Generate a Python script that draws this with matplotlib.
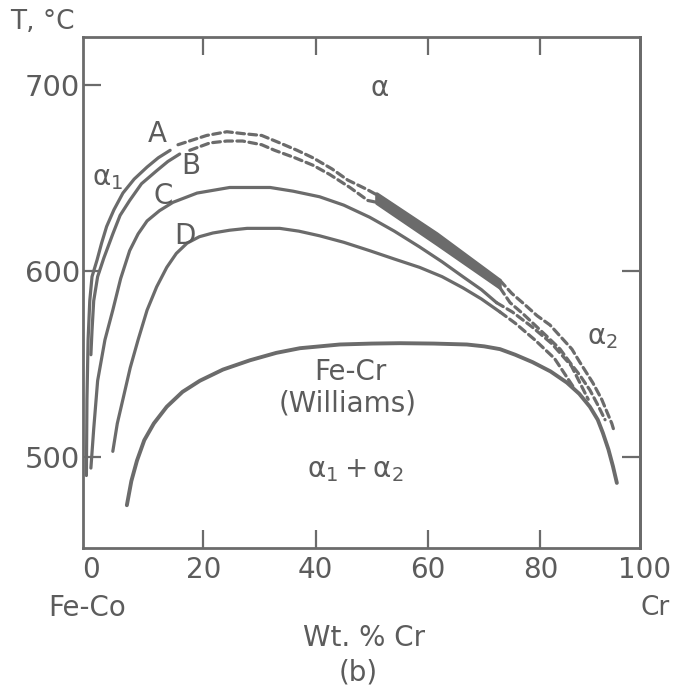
import numpy as np
import matplotlib
matplotlib.use("Agg")
import matplotlib.pyplot as plt
from matplotlib.transforms import blended_transform_factory

# ---- data (wt.% Cr, T in degC) ----
# curve A, solid part
a_wt = [-0.8, -0.7, -0.5, -0.2, 0.2, 1.1, 1.9, 2.8, 4.1, 5.7, 7.7, 10.0, 12.0, 14.1]
a_T = [490, 531, 563, 584, 597, 606, 615, 624, 633, 642, 649.5, 656, 661, 665]
# curve B, solid part
b_wt = [0.0, 0.2, 0.5, 1.2, 2.3, 3.9, 5.2, 6.9, 9.0, 11.7, 13.7, 15.8]
b_T = [555, 568, 584, 597, 607, 620, 630, 638, 647, 654, 659, 663]
# A and B, dashed continuation (upper branch)
a_dash_wt = [15.5, 20.6, 24.2, 27.0, 30.4, 33.6, 36.7, 39.5, 42.9, 45.7, 49.1, 50.9]
a_dash_T = [668, 673, 675, 674, 673, 669, 665, 661, 655, 649, 644, 641]
b_dash_wt = [17.6, 21.2, 24.2, 27.0, 30.4, 32.7, 36.3, 39.5, 42.5, 46.1, 49.3, 50.9]
b_dash_T = [665, 669, 670, 670, 668, 665, 661, 657, 652, 645, 638, 637]
# shaded band between A and B
band_a_wt = [50.9, 61.6, 72.8]
band_a_T = [641.5, 620, 595]
band_b_wt = [50.9, 61.6, 72.8]
band_b_T = [636.5, 614.5, 591]
# A and B, dashed continuation (Cr-rich side)
a_dash2_wt = [72.8, 74.9, 77.2, 79.4, 81.7, 83.8, 85.6, 87.0, 89.3, 90.9, 92.7, 93.2]
a_dash2_T = [595, 588, 582, 576, 571, 564, 558, 551, 540, 531, 518, 513]
b_dash2_wt = [72.8, 74.6, 76.9, 79.0, 81.1, 83.5, 85.2, 87.0, 88.8, 90.2, 91.5]
b_dash2_T = [591, 583, 577, 571, 565, 558, 551, 544, 536, 528, 520]
# curve C
c_wt = [0.0, 0.5, 1.2, 2.5, 3.9, 5.3, 6.9, 8.4, 10.0, 12.2, 14.6, 18.9, 24.7, 31.9,
        36.0, 40.7, 45.0, 49.6, 54.0, 58.5, 62.5, 66.2, 69.5, 72.2]
c_T = [494, 515, 541, 563, 579, 596, 611, 620, 627, 632.5, 637, 642, 645, 645,
       643, 640, 635.5, 629, 621.5, 613, 605, 597, 590, 583]
c_dash_wt = [72.2, 75.0, 78.5, 82.0, 85.5, 88.5]
c_dash_T = [583, 578, 570, 561, 549, 531]
# curve D
d_wt = [3.9, 4.7, 5.7, 7.0, 8.4, 10.0, 11.7, 13.5, 15.2, 17.1, 19.3, 21.7, 24.7, 27.8,
        33.6, 37.0, 40.7, 45.0, 49.6, 54.0, 58.5, 62.5, 66.2, 69.5, 72.8]
d_T = [503, 518, 531, 548, 563, 579, 591.5, 602, 609.5, 615, 618.5, 620.5, 622, 623,
       623, 621.5, 619, 615.5, 611, 606.5, 602, 597, 591, 585, 578]
d_dash_wt = [72.8, 75.5, 79.0, 82.5, 86.0]
d_dash_T = [578, 572, 563, 553, 537]
# Fe-Cr (Williams)
w_wt = [6.4, 7.2, 8.2, 9.5, 11.2, 13.5, 16.3, 19.4, 23.5, 28.3, 33.0, 37.2, 44.3, 50.0,
        55.0, 61.0, 66.9, 70.0, 72.8, 75.5, 78.6, 81.8, 84.7, 86.9, 88.8, 90.2, 91.1,
        92.1, 92.9, 93.6]
w_T = [474, 487, 498, 509, 518, 527, 535, 541, 547, 552, 556, 558.5, 560.5, 561,
       561.2, 561, 560.5, 559.5, 558, 555, 551, 546, 540, 534, 527, 520, 513,
       504, 495, 486]

x_ticks = [20, 40, 60, 80]
x_labels = ["0", "20", "40", "60", "80", "100"]
x_label_pos = [0, 20, 40, 60, 80, 98.6]
y_ticks = [500, 600, 700]
y_ticks_right = [500, 600]

ink = "#5c5c5c"
line = "#6b6b6b"
fs = 20

plt.rcParams["mathtext.default"] = "regular"
plt.rcParams["font.family"] = "DejaVu Sans"

fig = plt.figure(figsize=(6.75, 6.91), dpi=100)
ax = fig.add_axes([0.123, 0.207, 0.825, 0.7395])
ax.set_xlim(-1.4, 97.7)
ax.set_ylim(451, 726)

solid = dict(color=line, lw=2.3, solid_capstyle="round", solid_joinstyle="round")
dashed = dict(color=line, lw=2.3, linestyle=(0, (2.4, 1.4)), dash_capstyle="round")

ax.plot(a_wt, a_T, **solid)
ax.plot(b_wt, b_T, **solid)
ax.plot(a_dash_wt, a_dash_T, **dashed)
ax.plot(b_dash_wt, b_dash_T, **dashed)
ax.plot(a_dash2_wt, a_dash2_T, **dashed)
ax.plot(b_dash2_wt, b_dash2_T, **dashed)
ax.fill(np.concatenate([band_a_wt, band_b_wt[::-1]]),
        np.concatenate([band_a_T, band_b_T[::-1]]),
        color=line, lw=2.5, ec=line, joinstyle="round")
ax.plot(c_wt, c_T, **solid)
ax.plot(c_dash_wt, c_dash_T, **dashed)
ax.plot(d_wt, d_T, **solid)
ax.plot(d_dash_wt, d_dash_T, **dashed)
ax.plot(w_wt, w_T, color=line, lw=2.8, solid_capstyle="round", solid_joinstyle="round")

# frame and ticks
for s in ax.spines.values():
    s.set_color(line)
    s.set_linewidth(2.0)
ax.set_xticks(x_ticks)
ax.set_xticklabels([])
ax.set_yticks(y_ticks)
ax.set_yticklabels([str(v) for v in y_ticks], fontsize=fs + 1, color=ink)
ax.tick_params(axis="x", direction="in", length=13, width=1.6, color=line,
               top=True, bottom=True)
ax.tick_params(axis="y", direction="in", length=13, width=1.6, color=line,
               right=False, pad=2)
sec = ax.secondary_yaxis("right")
sec.set_yticks(y_ticks_right)
sec.set_yticklabels([])
sec.tick_params(direction="in", length=13, width=1.6, color=line)
sec.spines["right"].set_color(line)
sec.spines["right"].set_linewidth(2.0)

# x tick labels (0 and 100 sit at/outside the frame)
tr = blended_transform_factory(ax.transData, fig.transFigure)
for xv, lab in zip(x_label_pos, x_labels):
    ax.text(xv, 1 - 570 / 691, lab, transform=tr, ha="center", va="center",
            fontsize=fs, color=ink, clip_on=False)

def px(x, y):
    return x / 675, 1 - y / 691

fig.text(*px(42, 22), "T, °C", ha="center", va="center", fontsize=fs - 1, color=ink)
fig.text(*px(87, 608), "Fe-Co", ha="center", va="center", fontsize=fs, color=ink)
fig.text(*px(655, 608), "Cr", ha="center", va="center", fontsize=fs - 1, color=ink)
fig.text(*px(364, 638), "Wt. % Cr", ha="center", va="center", fontsize=fs, color=ink)
fig.text(*px(358, 672), "(b)", ha="center", va="center", fontsize=fs, color=ink)

# labels inside the diagram
txt = dict(ha="center", va="center", fontsize=fs, color=ink)
ax.text(51.4, 698.4, r"$\alpha$", **txt)
ax.text(3.0, 650, r"$\alpha_1$", **txt)
ax.text(11.9, 673.7, "A", **txt)
ax.text(17.8, 656.5, "B", **txt)
ax.text(12.8, 640.3, "C", **txt)
ax.text(16.7, 618.8, "D", **txt)
ax.text(91.0, 564.5, r"$\alpha_2$", **txt)
ax.text(46.1, 545.7, "Fe-Cr", **txt)
ax.text(45.7, 529.0, "(Williams)", **txt)
ax.text(47.0, 493.0, r"$\alpha_1+\alpha_2$", **txt)

fig.savefig("out.png", dpi=100, facecolor="white")
